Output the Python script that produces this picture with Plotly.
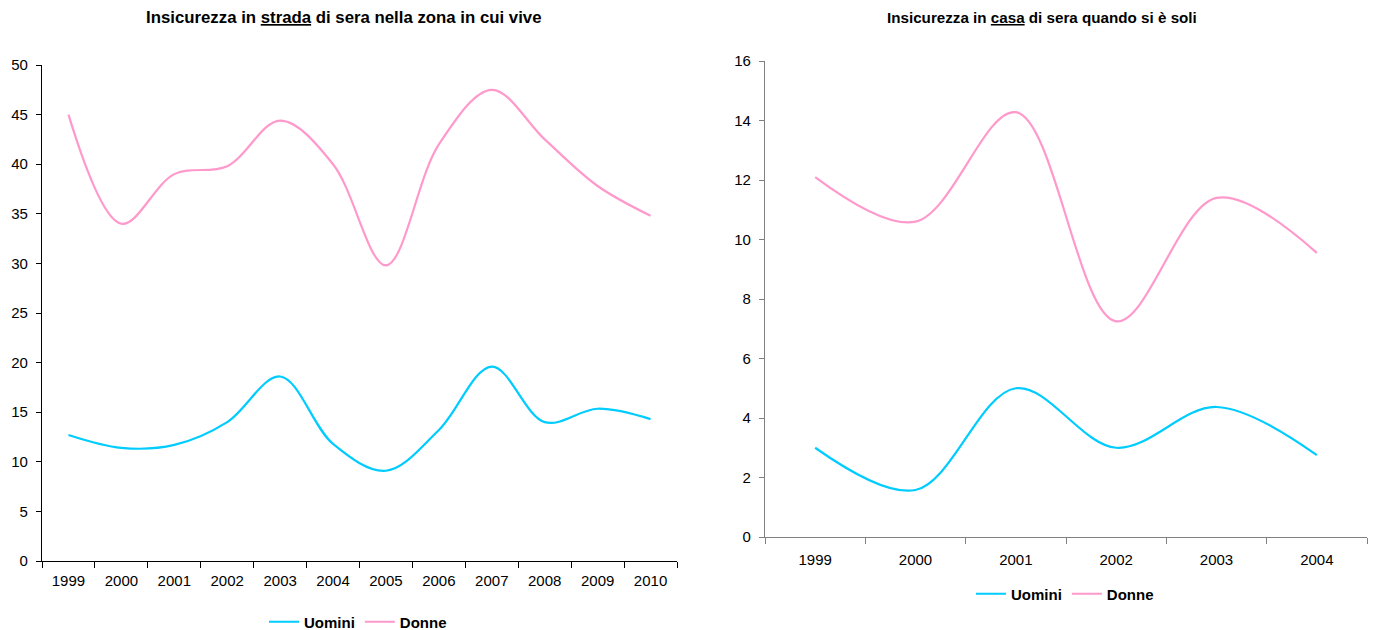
import plotly.graph_objects as go
from plotly.subplots import make_subplots

anni_strada = ['1999', '2000', '2001', '2002', '2003', '2004', '2005', '2006', '2007', '2008', '2009', '2010']
uomini_strada = [12.7, 11.4, 11.7, 14.0, 18.6, 11.8, 9.1, 13.2, 19.6, 14.0, 15.35, 14.3]
donne_strada = [45.0, 34.0, 39.0, 39.8, 44.4, 40.0, 29.8, 42.0, 47.5, 42.5, 37.8, 34.8]

anni_casa = ['1999', '2000', '2001', '2002', '2003', '2004']
uomini_casa = [3.0, 1.58, 5.0, 3.0, 4.37, 2.75]
donne_casa = [12.1, 10.6, 14.28, 7.25, 11.4, 9.55]

col_uomini = '#00CCFF'
col_donne = '#FF99CC'
W, H = 1373, 630

fig = make_subplots(rows=1, cols=2)

fig.add_trace(go.Scatter(x=anni_strada, y=uomini_strada, name='<b>Uomini</b>', legend='legend',
                         line=dict(color=col_uomini)), row=1, col=1)
fig.add_trace(go.Scatter(x=anni_strada, y=donne_strada, name='<b>Donne</b>', legend='legend',
                         line=dict(color=col_donne)), row=1, col=1)
fig.add_trace(go.Scatter(x=anni_casa, y=uomini_casa, name='<b>Uomini</b>', legend='legend2',
                         line=dict(color=col_uomini)), row=1, col=2)
fig.add_trace(go.Scatter(x=anni_casa, y=donne_casa, name='<b>Donne</b>', legend='legend2',
                         line=dict(color=col_donne)), row=1, col=2)

fig.update_traces(mode='lines', line_width=2.2, line_shape='spline', line_smoothing=1.0)

fig.update_layout(
    width=W, height=H, template='plotly_white', plot_bgcolor='white', paper_bgcolor='white',
    margin=dict(l=0, r=0, t=0, b=0, autoexpand=False),
    font=dict(family='Liberation Sans, Arial', size=15, color='black'),
    legend=dict(orientation='h', x=358 / W, y=(H - 622) / H, xanchor='center', yanchor='middle',
                font=dict(size=15), itemwidth=30, tracegroupgap=0),
    legend2=dict(orientation='h', x=1065 / W, y=(H - 594) / H, xanchor='center', yanchor='middle',
                 font=dict(size=15), itemwidth=30, tracegroupgap=0),
    xaxis=dict(domain=[42 / W, 677 / W], range=[-0.5, 11.5], ticklabelstandoff=6),
    xaxis2=dict(domain=[765 / W, 1367 / W], range=[-0.5, 5.5], ticklabelstandoff=9),
    yaxis=dict(domain=[(H - 561) / H, (H - 65) / H], range=[0, 50], dtick=5),
    yaxis2=dict(domain=[(H - 537) / H, (H - 61) / H], range=[0, 16], dtick=2),
)

fig.update_xaxes(type='category', tickson='boundaries', ticks='outside', ticklen=6,
                 showline=True, linewidth=1.2, showgrid=False, zeroline=False, tickfont_size=15)
fig.update_yaxes(ticks='outside', ticklen=5, showline=True, linewidth=1.2, showgrid=False,
                 zeroline=False, tickfont_size=15, ticklabelstandoff=5)
fig.update_xaxes(linecolor='black', tickcolor='black', row=1, col=1)
fig.update_yaxes(linecolor='black', tickcolor='black', row=1, col=1)
fig.update_xaxes(linecolor='#808080', tickcolor='#808080', row=1, col=2)
fig.update_yaxes(linecolor='#808080', tickcolor='#808080', row=1, col=2)

fig.add_annotation(text='<b>Insicurezza in <span style="text-decoration:underline">strada</span> di sera nella zona in cui vive</b>',
                   x=343 / W, y=(H - 17) / H, xref='paper', yref='paper', showarrow=False,
                   font=dict(size=16.8), xanchor='center', yanchor='middle')
fig.add_annotation(text='<b>Insicurezza in <span style="text-decoration:underline">casa</span> di sera quando si è soli</b>',
                   x=1042 / W, y=(H - 17) / H, xref='paper', yref='paper', showarrow=False,
                   font=dict(size=15.2), xanchor='center', yanchor='middle')

# the page body has a default 8px margin: remove it so the figure fills the window
fig.write_html('out.html', config={'displayModeBar': False},
               post_script="document.body.style.margin='0';")
